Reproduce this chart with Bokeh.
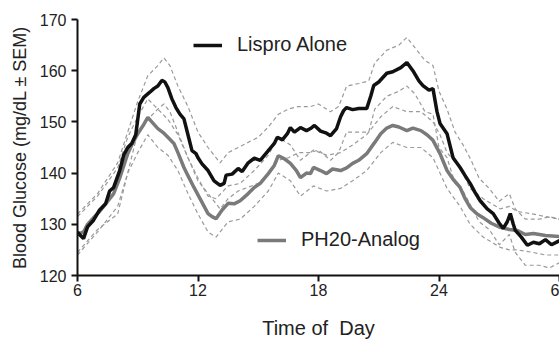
from bokeh.plotting import figure
from bokeh.models import Legend, LegendItem, FixedTicker, Range1d
from bokeh.embed import file_html
from bokeh.resources import INLINE

# ---- data ----
lispro_t = [6.0, 6.15, 6.3, 6.5, 6.8, 7.1, 7.4, 7.6, 7.8, 8.1, 8.3, 8.5, 8.7, 8.9, 9.1, 9.3,
            9.6, 9.8, 10.0, 10.2, 10.35, 10.5, 10.7, 10.9, 11.1, 11.3, 11.5, 11.7, 11.9, 12.0,
            12.2, 12.5, 12.8, 13.1, 13.3, 13.4, 13.7, 14.0, 14.2, 14.5, 14.8, 15.1, 15.5, 15.8,
            15.95, 16.2, 16.45, 16.6, 16.8, 17.1, 17.4, 17.6, 17.8, 18.1, 18.4, 18.6, 18.9, 19.1,
            19.25, 19.4, 19.7, 20.0, 20.4, 20.6, 20.75, 21.0, 21.4, 21.7, 22.1, 22.4, 22.7, 23.0,
            23.2, 23.5, 23.7, 23.9, 24.05, 24.4, 24.7, 25.05, 25.3, 25.55, 25.8, 26.05, 26.4,
            26.7, 27.0, 27.2, 27.4, 27.55, 27.7, 27.8, 28.1, 28.4, 28.7, 29.0, 29.3, 29.6, 30.0]
lispro_bg = [128.5, 127.8, 127.2, 129.5, 130.8, 132.8, 134.0, 136.5, 137.2, 140.5, 143.5, 145.0,
             145.8, 147.5, 153.5, 154.8, 155.8, 156.5, 157.0, 158.1, 157.8, 156.7, 154.5, 152.8,
             151.5, 150.6, 147.5, 144.4, 143.8, 143.0, 141.8, 140.5, 138.5, 137.6, 138.0, 139.6,
             139.8, 140.9, 140.3, 142.0, 142.9, 142.5, 144.4, 145.8, 147.0, 146.5, 147.7, 148.9,
             148.0, 148.9, 148.3, 148.7, 149.3, 148.2, 147.8, 147.3, 148.7, 151.0, 152.2, 152.8,
             152.4, 152.6, 152.6, 155.0, 157.1, 157.8, 159.5, 159.8, 160.6, 161.6, 160.0, 158.0,
             157.1, 156.2, 156.5, 152.0, 149.7, 147.7, 143.0, 141.1, 139.5, 138.0, 136.2, 134.6,
             133.0, 132.1, 130.2, 129.2, 130.5, 132.1, 130.0, 128.8, 127.5, 125.9, 126.5, 126.2,
             127.0, 126.0, 126.8]

ph20_t = [6.0, 6.3, 6.5, 6.8, 7.1, 7.4, 7.8, 8.1, 8.5, 8.7, 9.0, 9.3, 9.5, 9.7, 10.0, 10.3, 10.5,
          10.8, 11.0, 11.3, 11.5, 11.8, 12.1, 12.5, 12.7, 12.9, 13.2, 13.5, 13.8, 14.1, 14.5, 14.8,
          15.1, 15.5, 15.8, 16.0, 16.3, 16.6, 16.9, 17.1, 17.4, 17.6, 17.75, 18.1, 18.4, 18.7,
          19.1, 19.4, 19.7, 20.0, 20.4, 20.8, 21.1, 21.4, 21.7, 22.0, 22.4, 22.7, 23.1, 23.4,
          23.7, 24.05, 24.4, 24.7, 25.05, 25.3, 25.55, 25.9, 26.2, 26.6, 27.05, 27.5, 27.9, 28.3,
          28.7, 29.3, 30.0]
ph20_bg = [128.0, 128.5, 130.0, 131.3, 132.5, 134.0, 136.0, 139.0, 143.8, 145.5, 147.7, 149.5,
           150.9, 150.0, 148.7, 147.8, 147.0, 145.8, 144.0, 141.1, 139.5, 137.2, 135.0, 132.1,
           131.5, 131.1, 132.8, 134.1, 134.0, 134.6, 136.0, 137.2, 138.0, 139.9, 141.5, 143.4,
           142.8, 141.9, 140.5, 139.1, 140.0, 139.9, 141.1, 140.5, 139.9, 140.8, 140.5, 141.0,
           141.9, 142.5, 143.8, 146.0, 147.7, 148.8, 149.3, 149.0, 148.3, 148.8, 148.3, 147.5,
           146.4, 143.8, 140.5, 138.8, 137.2, 135.0, 133.3, 132.0, 131.3, 130.2, 129.4, 129.0,
           128.8, 128.0, 128.2, 127.8, 127.6]

lispro_sem_t = [6.0, 7.0, 8.0, 8.5, 9.0, 9.5, 10.0, 10.3, 10.6, 11.0, 11.5, 12.0, 12.5, 13.1,
                13.5, 14.0, 15.0, 15.5, 16.0, 16.5, 17.0, 17.6, 18.0, 18.6, 19.0, 19.4, 20.0,
                20.5, 20.8, 21.4, 22.0, 22.4, 22.8, 23.3, 23.7, 24.0, 24.4, 24.8, 25.2, 25.6,
                26.0, 26.5, 27.0, 27.5, 27.8, 28.3, 29.0, 29.5, 30.0]
lispro_upper = [132, 136, 142, 148, 154, 159, 161, 162.5, 161, 157, 153, 148, 145, 142, 144,
                145, 147, 149, 151.5, 152.5, 153, 153, 153.5, 152, 153, 157, 157.5, 158, 161.5,
                164, 165, 166.5, 164.5, 162, 161, 156, 152.5, 148, 145.5, 142.5, 139, 137,
                134.5, 136, 133, 131, 131, 131.5, 131]
lispro_lower = [124, 128.5, 133.5, 140, 148, 150.5, 152.5, 153.5, 152, 148, 143, 138.5, 136,
                133, 135, 136.5, 138, 140, 142.5, 143, 144, 144, 144.5, 142.5, 144, 148, 148,
                148, 152.5, 155, 156, 157, 155.5, 152, 151.5, 145, 143, 138, 136.5, 133.5,
                130.5, 129, 126, 128, 124.5, 122, 122, 121.5, 122.5]

ph20_sem_t = [6.0, 7.0, 8.0, 8.5, 9.0, 9.5, 10.0, 10.5, 11.0, 11.5, 12.0, 12.5, 12.9, 13.5,
              14.1, 14.8, 15.5, 16.0, 16.6, 17.1, 17.75, 18.4, 19.1, 19.7, 20.4, 21.1, 21.7,
              22.4, 23.1, 23.7, 24.05, 24.4, 25.05, 25.55, 26.2, 27.05, 27.5, 27.9, 28.7, 29.3,
              30.0]
ph20_upper = [131.5, 135.5, 141, 147, 151, 154.5, 152.5, 150.5, 147.5, 143, 139, 135.5, 135,
              137.5, 138, 140.5, 143.5, 147, 145.5, 142.5, 144.5, 143.5, 144, 145.5, 147.5, 151,
              153, 152, 152, 150, 147.5, 144, 141, 137, 135, 133, 133.5, 132.5, 132, 131.5, 131]
ph20_lower = [124.5, 129, 132, 140, 144, 147.5, 145, 143.5, 140.5, 136, 132, 128.5, 127.5,
              130.5, 131, 133.5, 136.5, 140, 138.5, 135.5, 137.5, 136.5, 137, 138.5, 140.5, 144,
              146, 145, 145, 143, 140, 137, 133.5, 130, 127.5, 125.5, 125, 125, 124.5, 124, 124]

x_ticks = [6, 12, 18, 24, 30]
x_tick_labels = ["6", "12", "18", "24", "6"]
y_ticks = [120, 130, 140, 150, 160, 170]
series_names = ["Lispro Alone", "PH20-Analog"]

FONT = "Liberation Sans"
TXT = "#222222"

p = figure(width=559, height=342, output_backend="svg", toolbar_location=None,
           x_range=Range1d(6, 30), y_range=Range1d(120, 170),
           min_border_left=77, min_border_right=0, min_border_top=19, min_border_bottom=67)
p.outline_line_color = None
p.xgrid.visible = False
p.ygrid.visible = False
p.background_fill_color = "white"
p.border_fill_color = "white"

band_kw = dict(line_color="#9a9a9a", line_width=1.2, line_dash="4 3")
p.line(lispro_sem_t, lispro_upper, **band_kw)
p.line(lispro_sem_t, lispro_lower, **band_kw)
p.line(ph20_sem_t, ph20_upper, **band_kw)
p.line(ph20_sem_t, ph20_lower, **band_kw)

r_ph20 = p.line(ph20_t, ph20_bg, line_color="#7a7a7a", line_width=3.5)
r_lispro = p.line(lispro_t, lispro_bg, line_color="#111111", line_width=3.5)

for ax in (p.xaxis[0], p.yaxis[0]):
    ax.axis_line_width = 2
    ax.axis_line_color = "#111111"
    ax.major_tick_line_width = 2
    ax.major_tick_line_color = "#111111"
    ax.major_tick_out = 6
    ax.major_tick_in = 0
    ax.minor_tick_line_color = None
    ax.major_label_text_font = FONT
    ax.major_label_text_font_size = "16px"
    ax.major_label_text_color = TXT
    ax.axis_label_text_font = FONT
    ax.axis_label_text_font_style = "normal"
    ax.axis_label_text_color = TXT

p.xaxis.ticker = FixedTicker(ticks=x_ticks)
p.xaxis.major_label_overrides = {t: l for t, l in zip(x_ticks, x_tick_labels)}
p.xaxis.axis_label = "Time of\u00a0 Day"
p.xaxis.axis_label_text_font_size = "20px"
p.xaxis.major_label_standoff = 2
p.xaxis.axis_label_standoff = 18

p.yaxis.ticker = FixedTicker(ticks=y_ticks)
p.yaxis.axis_label = "Blood Glucose (mg/dL \u00b1 SEM)"
p.yaxis.axis_label_text_font_size = "18px"
p.yaxis.major_label_standoff = 5
p.yaxis.axis_label_standoff = 7

leg_kw = dict(padding=0, margin=0, spacing=0, border_line_alpha=0, background_fill_alpha=0,
              glyph_width=29, glyph_height=20, label_standoff=15,
              label_text_font=FONT, label_text_font_size="20px", label_text_color=TXT)
leg1 = Legend(items=[LegendItem(label=series_names[0], renderers=[r_lispro])],
              location=(116, 219), **leg_kw)
leg2 = Legend(items=[LegendItem(label=series_names[1], renderers=[r_ph20])],
              location=(180, 24), **leg_kw)
p.add_layout(leg1)
p.add_layout(leg2)

open("out.html", "w").write(file_html(p, INLINE))
